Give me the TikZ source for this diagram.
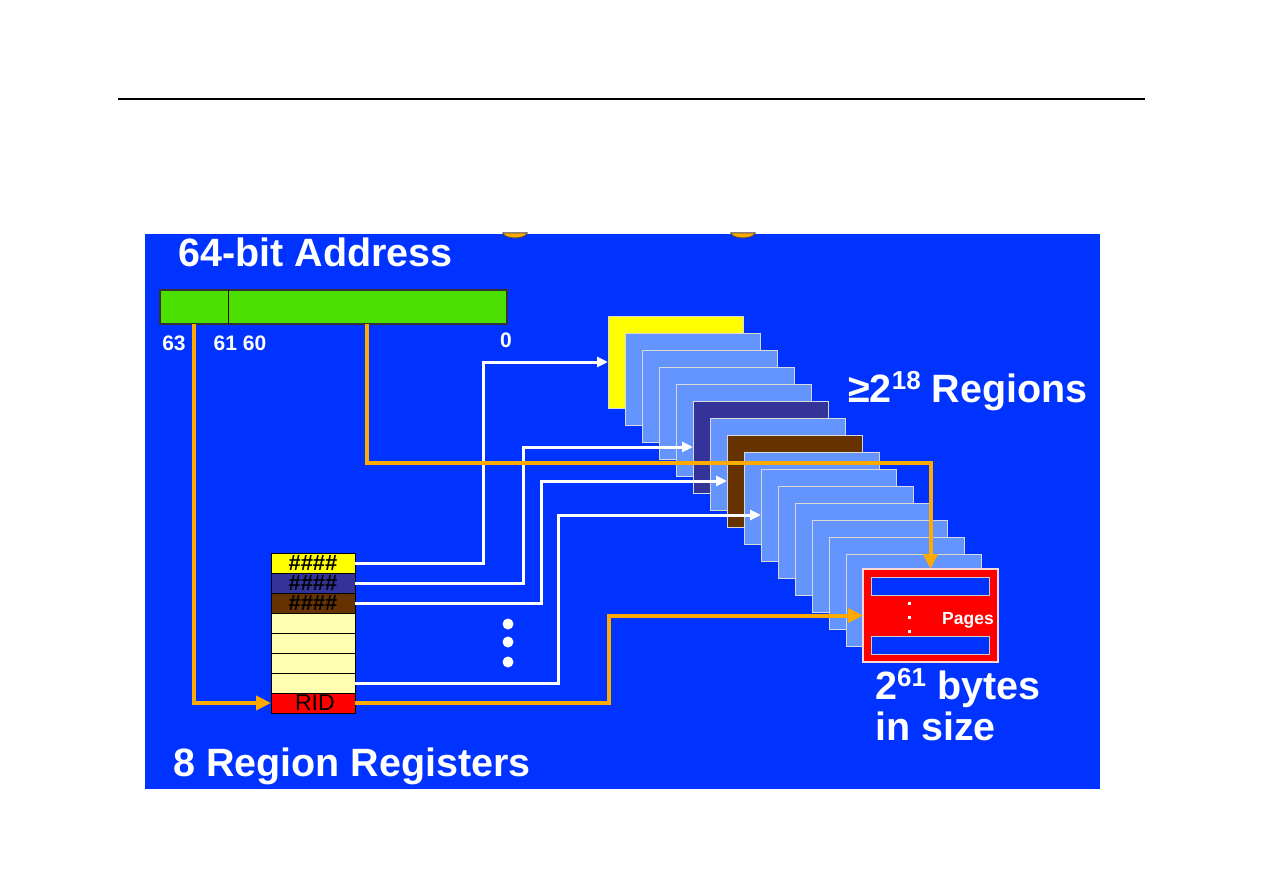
\documentclass[tikz,border=0pt]{standalone}
\usepackage{fontspec}
\setmainfont{Liberation Sans}
\usetikzlibrary{positioning, arrows.meta, calc}
\definecolor{slideblue}{HTML}{0033FF}
\definecolor{reglight}{HTML}{6495FF}
\definecolor{regnavy}{HTML}{333399}
\definecolor{regbrown}{HTML}{663300}
\definecolor{regyellow}{HTML}{FFFF00}
\definecolor{rowyellow}{HTML}{FFFFB0}
\definecolor{pagered}{HTML}{FF0000}
\definecolor{addrgreen}{HTML}{4CE000}
\definecolor{ridorange}{HTML}{FFAA00}
\tikzset{
  region/.style={draw=white!85!black, line width=1pt, minimum width=135pt, minimum height=92pt,
    anchor=north west, inner sep=0pt, outer sep=0pt},
  regrow/.style={draw=black, line width=1pt, fill=rowyellow, minimum width=84pt, minimum height=20pt,
    inner sep=0pt, outer sep=0pt, font=\fontsize{22}{22}\selectfont\bfseries},
  pagebar/.style={draw=white!80!black, line width=1pt, fill=slideblue, minimum width=118pt,
    minimum height=18pt, inner sep=0pt, outer sep=0pt},
  whitearrow/.style={draw=white, line width=3pt, -{Triangle[length=11pt,width=10pt]}},
  orangearrow/.style={draw=ridorange, line width=4pt, -{Triangle[length=15pt,width=14pt]}},
  bigtext/.style={text=white, font=\fontsize{39.5}{41}\selectfont\bfseries, inner sep=0pt, anchor=base west},
  bitlabel/.style={text=white, font=\fontsize{21}{21}\selectfont\bfseries, inner sep=0pt, anchor=base}
}
\begin{document}
\begin{tikzpicture}[x=1pt, y=-1pt]
    \useasboundingbox (0,0) rectangle (1263,893);
    \draw[line width=1.2pt] (118,99) -- (1145,99);
    \fill[slideblue] (145,234) rectangle (1100,789);
    % bits of the cut-off title
    \foreach \bx in {515,743}
        \draw[fill=ridorange, draw=black!70, line width=1pt] (\bx+12,233) arc[start angle=0, end angle=180, x radius=12, y radius=5] -- cycle;
    \node[bigtext] (title) at (178,267) {64-bit Address};

    % address
    \node[draw=black!80, line width=1.5pt, fill=addrgreen, minimum width=347pt, minimum height=34pt,
        anchor=north west, inner sep=0pt, outer sep=0pt] (addr) at (160,290) {};
    \draw[line width=1pt] ($(addr.north west)+(68,0)$) -- ($(addr.south west)+(68,0)$);
    \node[bitlabel] (b63) at (174,350) {63};
    \node[bitlabel] (b61) at (240,350) {61 60};
    \node[bitlabel] (b0) at (506,347) {0};
    \coordinate (hi) at ($(addr.south west)+(34,0)$);
    \coordinate (lo) at ($(addr.south west)+(207,0)$);

    % regions
    \foreach \i/\c in {0/regyellow,1/reglight,2/reglight,3/reglight,4/reglight,5/regnavy,6/reglight,
        7/regbrown,8/reglight,9/reglight,10/reglight,11/reglight,12/reglight,13/reglight,14/reglight}
        \node[region, fill=\c] (reg\i) at ({608+17*\i},{316+17*\i}) {};
    \node[region, fill=pagered, draw=pink!60!white, line width=1.5pt, minimum height=93pt] (pagebox) at (863,569) {};
    \node[pagebar, anchor=north] (toppage) at ($(pagebox.north)+(0,8)$) {};
    \node[pagebar, anchor=south] (lastpage) at ($(pagebox.south)+(0,-8)$) {};
    \foreach \y in {602,616,630}
        \fill[white] (907.5,\y) rectangle +(3,3);
    \node[text=white, font=\fontsize{17.5}{18}\selectfont\bfseries, inner sep=0pt, anchor=base west] (pglabel) at (942,624) {Pages};

    \node[bigtext] (regcount) at (848,402) {≥2\raisebox{13pt}{\fontsize{26}{26}\selectfont 18} Regions};
    \node[bigtext] (size1) at (875,699) {2\raisebox{13pt}{\fontsize{26}{26}\selectfont 61} bytes};
    \node[bigtext] (size2) at (875,740) {in size};

    % region registers
    \node[regrow, fill=regyellow, anchor=north west] (r1) at (271,553) {\#\#\#\#};
    \node[regrow, fill=regnavy, below=0pt of r1] (r2) {\#\#\#\#};
    \node[regrow, fill=regbrown, below=0pt of r2] (r3) {\#\#\#\#};
    \node[regrow, below=0pt of r3] (r4) {};
    \node[regrow, below=0pt of r4] (r5) {};
    \node[regrow, below=0pt of r5] (r6) {};
    \node[regrow, below=0pt of r6] (r7) {};
    \node[regrow, fill=pagered, below=0pt of r7, font=\fontsize{23}{23}\selectfont] (r8) {\,RID};
    \foreach \y in {624,642,662}
        \fill[white] (508,\y) circle (5.5pt);
    \node[bigtext] (rrlabel) at (173,776) {8 Region Registers};

    \draw[whitearrow] (r1.east) -- ++(128,0) |- (reg0.west);
    \draw[whitearrow] (r2.east) -- ++(168,0) |- (reg5.west);
    \draw[whitearrow] (r3.east) -- ++(186,0) |- (reg7.west);
    \draw[whitearrow] (r7.east) -- ++(203,0) |- (reg9.west);

    \draw[orangearrow] (hi) |- (r8.west);
    \draw[orangearrow] (lo) -- ++(0,139) -| (pagebox.north);
    \draw[orangearrow] (r8.east) -- ++(254,0) |- (pagebox.west);
\end{tikzpicture}
\end{document}
